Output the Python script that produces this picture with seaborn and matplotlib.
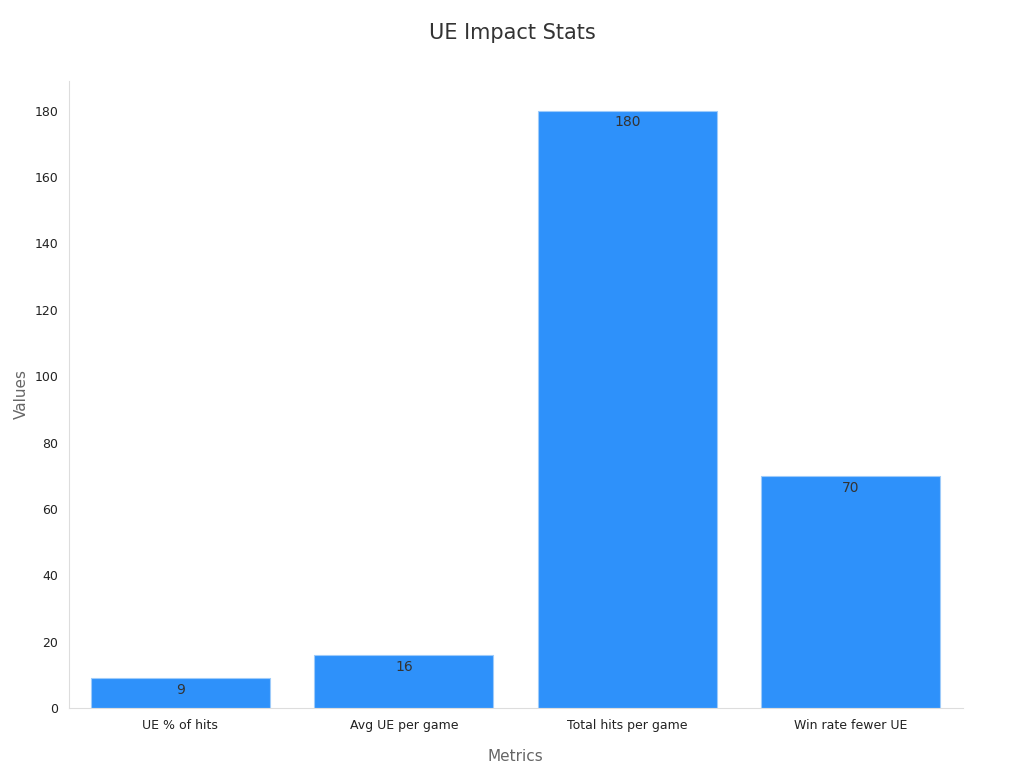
import matplotlib
matplotlib.use("Agg")
import matplotlib.pyplot as plt
import seaborn as sns
import pandas as pd

categories = ["UE % of hits", "Avg UE per game", "Total hits per game", "Win rate fewer UE"]
values = [9, 16, 180, 70]

sns.set_style("white")
plt.rcParams['font.family'] = ['DejaVu Sans']
df = pd.DataFrame({"Metrics": categories, "Values": values})
fig, ax = plt.subplots(figsize=(10.24, 7.68), dpi=100)
sns.barplot(data=df, x="Metrics", y="Values", color="#2e91fa", saturation=1, width=0.8, ax=ax, edgecolor="#9ecbfa", linewidth=0.8)
for i, v in enumerate(values):
    ax.text(i, v - 1.5, str(v), ha="center", va="top", fontsize=10, color="#333333")
ax.set_ylim(0, 189)
ax.set_yticks(range(0, 181, 20))
ax.tick_params(labelsize=9, colors="#222222", length=4)
ax.tick_params(axis='x', colors='#222222', length=0, pad=8)
ax.tick_params(axis='y', color='#888888')
ax.set_xlabel("Metrics", fontsize=11, color="#666666", labelpad=12)
ax.set_ylabel("Values", fontsize=11, color="#666666")
sns.despine(ax=ax)
for s in ["left", "bottom"]:
    ax.spines[s].set_color("#dddddd")
fig.suptitle("UE Impact Stats", fontsize=15, color="#333333", y=0.97)
fig.subplots_adjust(left=0.067, right=0.94, top=0.895, bottom=0.078)
fig.savefig("out.png")
